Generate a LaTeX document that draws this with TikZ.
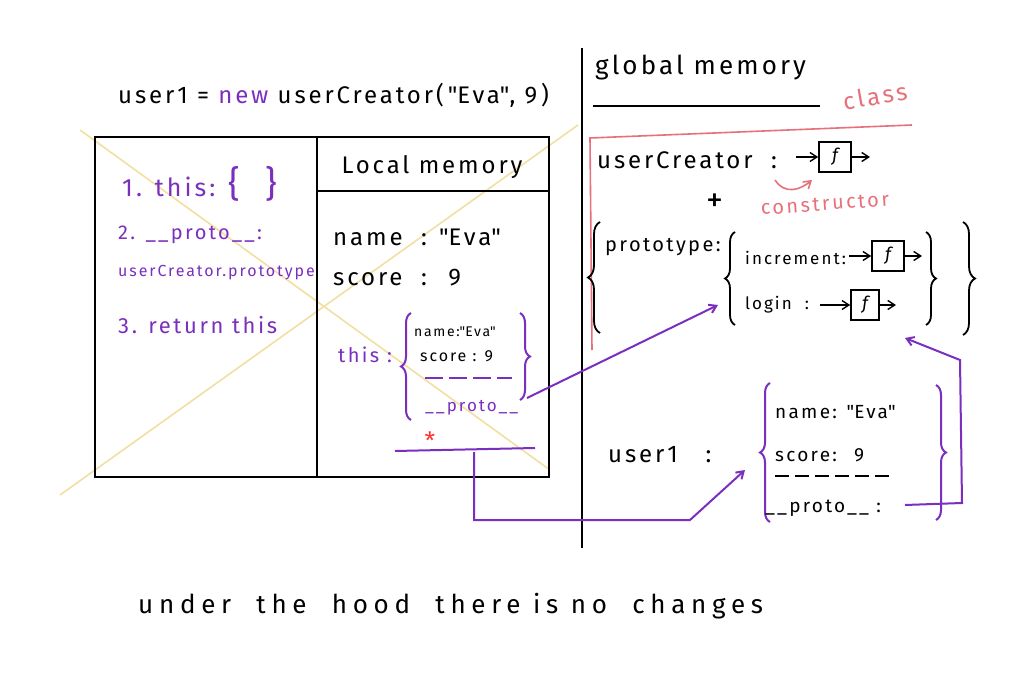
\documentclass[tikz,border=0pt]{standalone}
\usepackage{fontspec}
\setmainfont{Fira Sans}[LetterSpace=12]
\newfontfamily\wide{Fira Sans}[LetterSpace=22]
\usetikzlibrary{arrows.meta,decorations.pathreplacing}
\definecolor{pur}{HTML}{7B2FBE}
\definecolor{pink}{HTML}{E8707A}
\definecolor{yel}{HTML}{F3DFA2}
\newcommand{\fs}[1]{\fontsize{#1}{#1}\selectfont}
\newcommand{\q}{\textquotedbl}
\tikzset{
  ink/.style={line width=2.2pt, black},
  pline/.style={line width=2pt, pur},
  rline/.style={line width=1.6pt, pink},
  txt/.style={inner sep=0pt, anchor=west, font=\fs{24}},
  ptxt/.style={txt, text=pur},
  fbox/.style={draw, line width=1.6pt, minimum width=32pt, minimum height=30pt, inner sep=0pt, font=\fs{18}\itshape},
  tip/.style={-{Straight Barb[length=7pt,width=9pt]}},
  obr/.style={decorate, decoration={brace, amplitude=10pt}},
}
\begin{document}
\begin{tikzpicture}[x=1pt,y=-1pt]
\useasboundingbox[fill=white] (0,0) rectangle (1031,679);
% yellow cross
\coordinate (y1) at (60,495); \coordinate (y2) at (578,125);
\coordinate (y3) at (80,130); \coordinate (y4) at (550,470);
\draw[yel, line width=1.6pt] (y1) -- (y2);
\draw[yel, line width=1.6pt] (y3) -- (y4);
% left frame
\node[txt, font=\fs{24}] (title) at (118,95) {user1 = {\color{pur}new} userCreator(\,\q Eva\q, 9\,)};
\coordinate (bl) at (95,137); \coordinate (br) at (549,477);
\draw[ink] (bl) rectangle (br);
\coordinate (d1) at (317,137); \coordinate (d2) at (317,477);
\draw[ink] (d1) -- (d2);
\coordinate (h1) at (317,191); \coordinate (h2) at (549,191);
\draw[ink] (h1) -- (h2);
\node[txt, anchor=center] (lm) at (432,167) {Local memory};
% steps
\node[ptxt, font=\fs{25}] (s1) at (122,184) {1. this: \fs{36}\{\,\, \}};
\node[ptxt, font=\fs{20}] (s2) at (118,235) {2. \_\_proto\_\_:};
\node[ptxt, font=\fs{16}] (s2b) at (118,273) {userCreator.prototype};
\node[ptxt, font=\fs{22}] (s3) at (118,325) {3. return this};
% local memory
\node[txt] (ln) at (333,237) {name \ : \q Eva\q};
\node[txt] (ls) at (333,278) {score \ : \ 9};
\node[ptxt, font=\fs{20}] (lt) at (338,355) {this :};
\node[txt, font=\fs{14}] (tn) at (414,332) {name:\q Eva\q};
\node[txt, font=\fs{16}] (ts) at (420,356) {score : 9};
\coordinate (tb1) at (411,420); \coordinate (tb2) at (411,313);
\draw[pline, obr] (tb1) -- (tb2);
\coordinate (tb3) at (520,313); \coordinate (tb4) at (520,400);
\draw[pline, obr] (tb3) -- (tb4);
\coordinate (td1) at (425,378); \coordinate (td2) at (512,378);
\draw[pline, dashed, dash pattern=on 18pt off 6pt] (td1) -- (td2);
\node[ptxt, font=\fs{17}] (tp) at (425,408) {\_\_proto\_\_};
\node[inner sep=0pt, text=red!80, font=\fs{24}] (ast) at (430,441) {*};
\coordinate (u1) at (395,451); \coordinate (u2) at (535,448);
\draw[pline] (u1) -- (u2);
% divider
\coordinate (v1) at (582,48); \coordinate (v2) at (582,548);
\draw[ink] (v1) -- (v2);
% global memory
\node[txt, font=\fs{26}] (gm) at (595,68) {global memory};
\coordinate (g1) at (593,106); \coordinate (g2) at (820,106);
\draw[ink, line width=1.6pt] (g1) -- (g2);
\node[inner sep=0pt, text=pink, font=\fs{24}, rotate=10] (cls) at (875,96) {class};
\coordinate (c1) at (590,138); \coordinate (c2) at (912,125); \coordinate (c3) at (592,350);
\draw[rline] (c3) -- (c1) -- (c2);
\node[txt] (uc) at (597,160) {userCreator \ :};
\node[fbox] (f1) at (835,157) {f};
\draw[ink, line width=1.4pt, tip] (f1.west) ++(-22,0) coordinate (a1) -- (f1.west);
\coordinate (a2) at (870,157);
\draw[ink, line width=1.4pt, tip] (f1.east) -- (a2);
\coordinate (r1) at (775,180); \coordinate (r2) at (812,180);
\draw[rline, tip] (r1) .. controls (785,195) and (800,190) .. (r2);
\node[inner sep=0pt, text=pink, font=\fs{20}, rotate=4] (ctor) at (825,204) {constructor};
\node[inner sep=0pt, font=\fs{34}] (plus) at (715,203) {+};
% prototype
\coordinate (ob1) at (600,333); \coordinate (ob2) at (600,222);
\draw[ink, line width=1.8pt, obr, decoration={amplitude=12pt}] (ob1) -- (ob2);
\node[txt, font=\fs{20}] (pt) at (605,247) {prototype:};
\coordinate (ib1) at (735,325); \coordinate (ib2) at (735,232);
\draw[ink, line width=1.8pt, obr] (ib1) -- (ib2);
\node[txt, font=\fs{17}] (inc) at (745,258) {increment:};
\node[fbox] (f2) at (888,256) {f};
\draw[ink, line width=1.4pt, tip] (f2.west) ++(-22,0) coordinate (a3) -- (f2.west);
\coordinate (a4) at (922,256);
\draw[ink, line width=1.4pt, tip] (f2.east) -- (a4);
\node[txt, font=\fs{17}] (lg) at (745,305) {login \ :};
\node[fbox, minimum width=28pt] (f3) at (865,305) {f};
\draw[ink, line width=1.4pt, tip] (f3.west) ++(-30,0) coordinate (a5) -- (f3.west);
\coordinate (a6) at (896,305);
\draw[ink, line width=1.4pt, tip] (f3.east) -- (a6);
\coordinate (ib3) at (926,232); \coordinate (ib4) at (926,325);
\draw[ink, line width=1.8pt, obr] (ib3) -- (ib4);
\coordinate (ob3) at (963,222); \coordinate (ob4) at (963,335);
\draw[ink, line width=1.8pt, obr, decoration={amplitude=12pt}] (ob3) -- (ob4);
% user1 object
\node[txt] (u1l) at (608,455) {user1 \ \ :};
\coordinate (ub1) at (770,522); \coordinate (ub2) at (770,383);
\draw[pline, obr] (ub1) -- (ub2);
\node[txt, font=\fs{19}] (on) at (775,412) {name: \q Eva\q};
\node[txt, font=\fs{19}] (os) at (775,455) {score: \ 9};
\coordinate (od1) at (775,476); \coordinate (od2) at (892,476);
\draw[ink, line width=1.4pt, dashed, dash pattern=on 14pt off 6pt] (od1) -- (od2);
\node[txt, font=\fs{19}] (op) at (765,508) {\_\_proto\_\_ :};
\coordinate (ub3) at (936,385); \coordinate (ub4) at (936,520);
\draw[pline, obr] (ub3) -- (ub4);
% connectors
\coordinate (p1) at (527,398); \coordinate (p2) at (718,305);
\draw[pline, tip] (p1) -- (p2);
\coordinate (q1) at (474,452); \coordinate (q2) at (474,520); \coordinate (q3) at (690,520); \coordinate (q4) at (745,470);
\draw[pline, tip] (q1) -- (q2) -- (q3) -- (q4);
\coordinate (w1) at (905,505); \coordinate (w2) at (962,503); \coordinate (w3) at (960,360); \coordinate (w4) at (905,338);
\draw[pline, tip] (w1) -- (w2) -- (w3) -- (w4);
% bottom
\node[txt, font={\wide\fs{26}}] (bot) at (138,606) {under \ the \ hood \ there is no \ changes};
\end{tikzpicture}
\end{document}
